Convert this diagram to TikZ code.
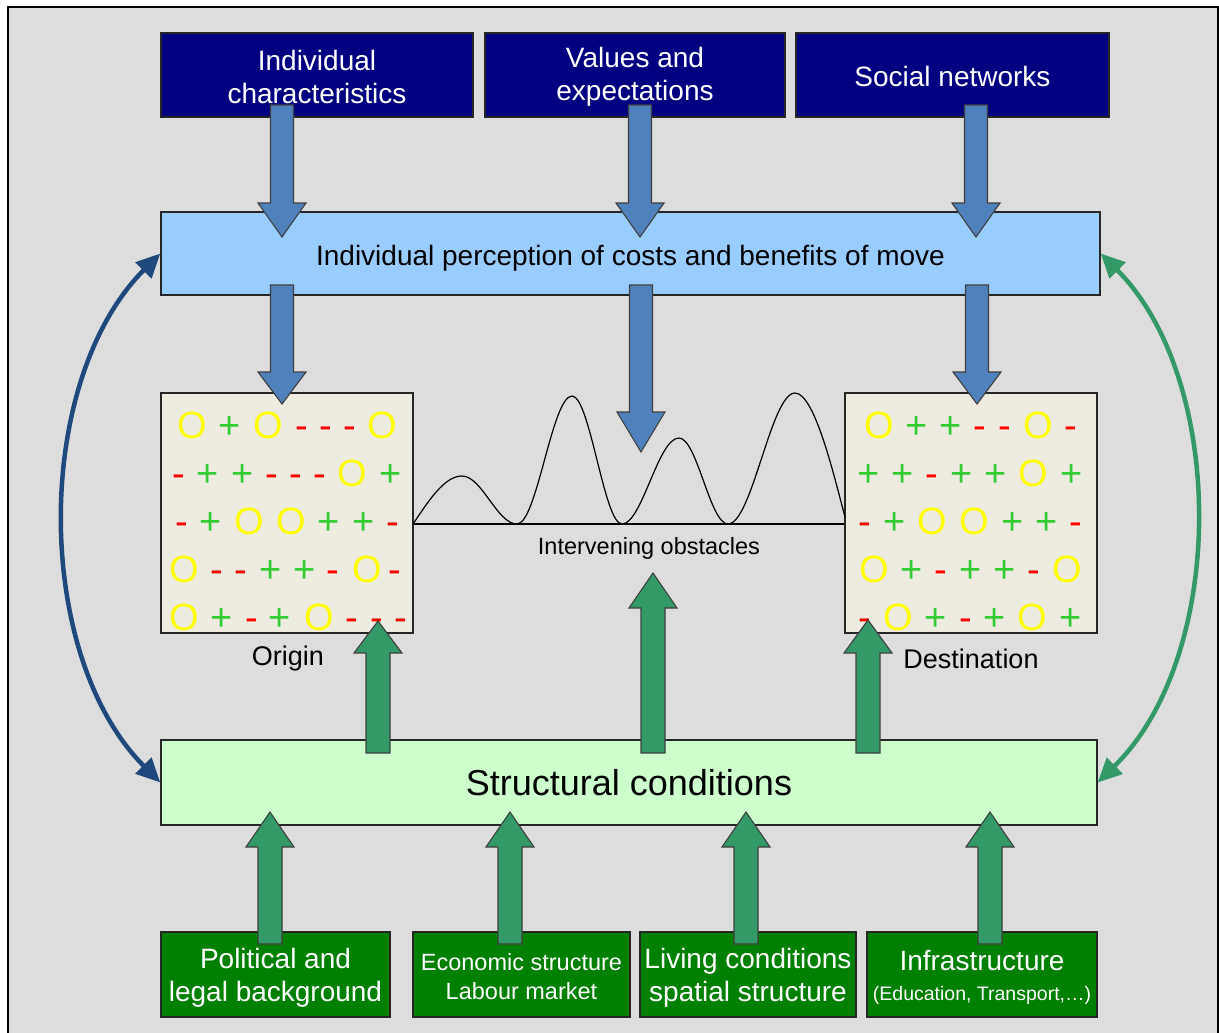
\documentclass[tikz,border=0pt]{standalone}
\usepackage{fontspec}
\setmainfont{Liberation Sans}
\usetikzlibrary{arrows.meta}
\definecolor{bgGray}{HTML}{DDDDDD}
\definecolor{navyBox}{HTML}{000080}
\definecolor{percBlue}{HTML}{99CCFF}
\definecolor{structGreen}{HTML}{CCFFCC}
\definecolor{bottomGreen}{HTML}{008000}
\definecolor{arrowBlue}{HTML}{4F81BD}
\definecolor{arrowGreen}{HTML}{339966}
\definecolor{curveBlue}{HTML}{1F497D}
\definecolor{boxCream}{HTML}{EEECE1}
\definecolor{colO}{HTML}{FFFF00}
\definecolor{colP}{HTML}{33CC33}
\definecolor{colM}{HTML}{FF0000}
\def\glO{O}\def\glP{+}\def\glM{-}
\newcommand{\fsz}[2]{\fontsize{#1}{#2}\selectfont}
% block arrow: style, x, y tail, y head base, y tip, shaft half width
\newcommand{\blockarrow}[6]{%
  \draw[#1] (#2-#6,#3) -- (#2+#6,#3) -- (#2+#6,#4) -- (#2+24,#4) -- (#2,#5)
    -- (#2-24,#4) -- (#2-#6,#4) -- cycle;}
\begin{document}
\begin{tikzpicture}[x=1pt,y=-1pt,
  box/.style={draw=black!85, line width=1.4pt, inner sep=0pt, align=center},
  topbox/.style={box, fill=navyBox, minimum width=312pt, minimum height=84pt},
  toptext/.style={inner sep=0pt, align=center, text=white, font=\fsz{28}{33}},
  percbox/.style={box, fill=percBlue, minimum width=939pt, minimum height=83pt, font=\fsz{28}{33}, text height=23pt, text depth=0pt},
  placebox/.style={box, fill=boxCream, minimum width=252pt, minimum height=240pt},
  structbox/.style={box, fill=structGreen, minimum width=936pt, minimum height=85pt, font=\fsz{36}{40}},
  botbox/.style={box, fill=bottomGreen, minimum height=85pt},
  bottext/.style={inner sep=0pt, align=center, text=white, font=\fsz{28}{33}},
  placelabel/.style={inner sep=0pt, font=\fsz{27}{30}},
  sym/.style={inner sep=0pt, anchor=base, font=\fsz{38}{38}},
  blueArr/.style={fill=arrowBlue, draw=black!75, line width=1.1pt, line join=miter},
  greenArr/.style={fill=arrowGreen, draw=black!75, line width=1.1pt, line join=miter},
  curveArr/.style={line width=4.5pt, {Triangle[length=24pt,width=22pt]}-{Triangle[length=24pt,width=22pt]}}
]
\useasboundingbox[fill=white] (0,0) rectangle (1219,1033);
\draw[fill=bgGray, line width=2.5pt] (8,7) rectangle (1218,1050);

% top boxes
\node[topbox] (ic) at (317,75) {};
\node[topbox, minimum width=300pt] (ve) at (635,75) {};
\node[topbox, minimum width=313pt] (sn) at (952.5,75) {};
\node[toptext] (ict) at (317,77) {Individual\\characteristics};
\node[toptext] (vet) at (635,77) {Values and\\expectations};
\node[toptext] (snt) at (952.5,76.5) {Social networks};

% perception
\node[percbox] (perc) at (630.5,253.5) {Individual perception of costs and benefits of move};

% origin / destination
\node[placebox] (orig) at (287,513) {};
\node[placebox] (dest) at (971,513) {};
\node[placelabel] (origlab) at (288,659) {Origin};
\node[placelabel] (destlab) at (971,659) {Destination};

% symbols in origin
\foreach \y/\row in {
  438/{192/O,230/P,268/O,302/M,326/M,350/M,382/O},
  486/{179/M,208/P,243/P,272/M,296/M,320/M,352/O,391/P},
  534/{182/M,211/P,249/O,291/O,329/P,364/P,393/M},
  582/{184/O,217/M,241/M,271/P,305/P,333/M,367/O,395/M},
  630/{184/O,222/P,252/M,280/P,319/O,352/M,377/M,401/M}}{
  \foreach \x/\s [count=\c] in \row {
    \node[sym, text=col\s] (o\y-\c) at (\x,\y) {\csname gl\s\endcsname};
  }
}
% symbols in destination
\foreach \y/\row in {
  438/{879/O,917/P,951/P,980/M,1005/M,1038/O,1071/M},
  486/{869/P,903/P,932/M,962/P,996/P,1033/O,1072/P},
  534/{865/M,895/P,932/O,974/O,1013/P,1047/P,1076/M},
  582/{874/O,912/P,941/M,971/P,1005/P,1034/M,1067/O},
  630/{865/M,898/O,936/P,966/M,995/P,1032/O,1071/P}}{
  \foreach \x/\s [count=\c] in \row {
    \node[sym, text=col\s] (d\y-\c) at (\x,\y) {\csname gl\s\endcsname};
  }
}

% intervening obstacles
\coordinate (gl) at (orig.east |- 0,524);
\coordinate (gr) at (dest.west |- 0,524);
\draw[line width=1.8pt] (gl) -- (gr);
\draw[line width=1.2pt] (413,524)
  .. controls (428,502) and (444,476) .. (462,476)
  .. controls (482,476) and (497,524) .. (517,524)
  .. controls (537,524) and (552,396) .. (572,396)
  .. controls (590,396) and (604,524) .. (622,524)
  .. controls (642,524) and (658,438) .. (679,438)
  .. controls (697,438) and (710,524) .. (728,524)
  .. controls (752,524) and (771,393) .. (795,393)
  .. controls (815,393) and (835,480) .. (845,517);
\node[inner sep=0pt, font=\fsz{23.5}{26}] (obst) at (649,548) {Intervening obstacles};

% structural conditions
\node[structbox] (struct) at (629,782.5) {Structural conditions};

% bottom boxes
\node[botbox, minimum width=229pt] (b1) at (275.5,974.5) {};
\node[botbox, minimum width=217pt] (b2) at (521.5,974.5) {};
\node[botbox, minimum width=216pt] (b3) at (748,974.5) {};
\node[botbox, minimum width=230pt] (b4) at (982,974.5) {};
\node[bottext] (b1t) at (275.5,978) {Political and\\legal background};
\node[bottext, font=\fsz{23.5}{29}] (b2t) at (521.5,977) {Economic structure\\Labour market};
\node[bottext] (b3t) at (748,978) {Living conditions\\spatial structure};
\node[bottext] (b4t) at (982,977.5) {Infrastructure\\[-3pt]{\fsz{19.5}{22}(Education, Transport,\dots)}};

% blue block arrows
\blockarrow{blueArr}{282}{105}{203}{237}{11.5}
\blockarrow{blueArr}{640}{105}{203}{237}{11.5}
\blockarrow{blueArr}{976}{105}{203}{237}{11.5}
\blockarrow{blueArr}{282}{285}{372}{404}{11.5}
\blockarrow{blueArr}{641}{285}{412}{452}{11.5}
\blockarrow{blueArr}{977}{285}{372}{404}{11.5}

% green block arrows
\blockarrow{greenArr}{378}{753}{653}{621}{12}
\blockarrow{greenArr}{653}{753}{608}{573}{12}
\blockarrow{greenArr}{868}{753}{653}{620}{12}
\blockarrow{greenArr}{270}{944}{847}{812}{12}
\blockarrow{greenArr}{510}{944}{847}{812}{12}
\blockarrow{greenArr}{746}{944}{847}{812}{12}
\blockarrow{greenArr}{990}{944}{847}{812}{12}

% feedback curves
\draw[curveArr, draw=curveBlue] (perc.west) .. controls (33,381) and (33,655) .. (struct.west);
\draw[curveArr, draw=arrowGreen] (perc.east) .. controls (1227,380) and (1227,656) .. (struct.east);
\end{tikzpicture}
\end{document}
